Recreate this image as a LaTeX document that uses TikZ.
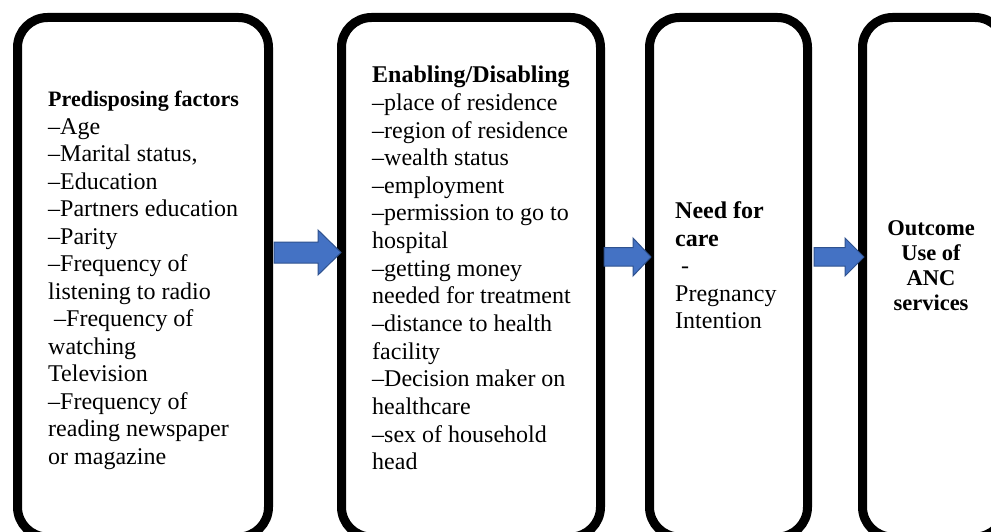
\documentclass[tikz,border=0pt]{standalone}
\usepackage{fontspec}
\setmainfont{Liberation Serif}
\definecolor{arrowfill}{HTML}{4472C4}
\definecolor{arrowline}{HTML}{2F528F}
\tikzset{
  stagebox/.style={draw=black, line width=9pt, rounded corners=30pt, fill=none, inner sep=0pt},
  boxtext/.style={inner sep=0pt, font=\fontsize{24}{27.5}\selectfont},
  blockarrow/.style={fill=arrowfill, draw=arrowline, line width=1pt, line join=miter}
}
\begin{document}
\begin{tikzpicture}[x=1pt,y=-1pt]
\useasboundingbox (0,0) rectangle (991,532);
\clip (0,0) rectangle (991,532);
\fill[white] (0,0) rectangle (991,532);
% boxes
\node[stagebox, minimum width=251pt, minimum height=519.5pt] (b1) at (143,277.25) {};
\node[stagebox, minimum width=259pt, minimum height=519.5pt] (b2) at (471,277.25) {};
\node[stagebox, minimum width=158pt, minimum height=519.5pt] (b3) at (728.5,277.25) {};
\node[stagebox, minimum width=142.5pt, minimum height=519.5pt] (b4) at (933.75,277.25) {};
% texts
\node[boxtext, anchor=north west, align=left] (t1) at (48,86.5) {%
\rule{0pt}{20pt}{\fontsize{22}{27.5}\selectfont\bfseries Predisposing factors}\\
–Age\\
–Marital status,\\
–Education\\
–Partners education\\
–Parity\\
–Frequency of\\
listening to radio\\
\ –Frequency of\\
watching\\
Television\\
–Frequency of\\
reading newspaper\\
or magazine};
\node[boxtext, font=\fontsize{24}{27.65}\selectfont, anchor=north west, align=left] (t2) at (372,62.5) {%
\rule{0pt}{20pt}{\fontsize{24}{27.65}\selectfont\bfseries Enabling/Disabling}\\
–place of residence\\
–region of residence\\
–wealth status\\
–employment\\
–permission to go to\\
hospital\\
–getting money\\
needed for treatment\\
–distance to health\\
facility\\
–Decision maker on\\
healthcare\\
–sex of household\\
head};
\node[boxtext, anchor=north west, align=left] (t3) at (675,198.5) {%
\rule{0pt}{20pt}\textbf{Need for}\\
\textbf{care}\\
\ -\\
Pregnancy\\
Intention};
\node[boxtext, font=\fontsize{22.5}{25}\selectfont\bfseries, anchor=north, align=center] (t4) at (931,215) {%
\rule{0pt}{20pt}Outcome\\
Use of\\
ANC\\
services};
% block arrows (connectors between boxes)
\draw[blockarrow] (274,242) -- (318,242) -- (318,230) -- (341,252.5) -- (318,275) -- (318,263) -- (274,263) -- cycle;
\draw[blockarrow] (604,247.5) -- (633,247.5) -- (633,238) -- (651,257) -- (633,276) -- (633,266) -- (604,266) -- cycle;
\draw[blockarrow] (814,247.5) -- (845,247.5) -- (845,238) -- (864,257) -- (845,276) -- (845,266) -- (814,266) -- cycle;
\end{tikzpicture}
\end{document}
